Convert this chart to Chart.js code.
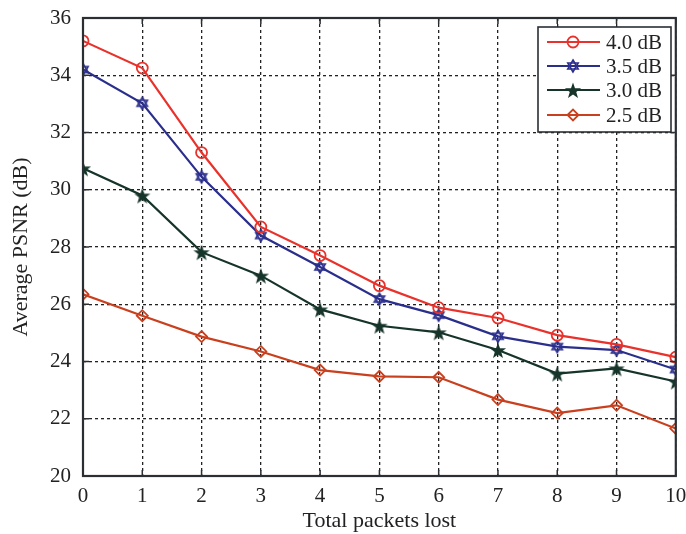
<!DOCTYPE html>
<html><head><meta charset="utf-8">
<script src="https://cdn.jsdelivr.net/npm/chart.js@4.4.1/dist/chart.umd.min.js"></script>
<style>html,body{margin:0;padding:0;background:#fff}#wrap{width:686px;height:534px}</style>
</head><body><div id="wrap"><canvas id="c" width="686" height="534"></canvas></div>
<script>
const categories = [0,1,2,3,4,5,6,7,8,9,10];
const seriesLabels = ['4.0 dB','3.5 dB','3.0 dB','2.5 dB'];
const s40 = [35.2,34.25,31.3,28.7,27.7,26.65,25.88,25.52,24.92,24.6,24.15];
const s35 = [34.2,33.02,30.45,28.4,27.3,26.18,25.62,24.88,24.52,24.4,23.72];
const s30 = [30.75,29.8,27.82,27.0,25.82,25.25,25.02,24.4,23.58,23.76,23.3];
const s25 = [26.35,25.6,24.87,24.35,23.7,23.48,23.45,22.67,22.2,22.47,21.66];
const yTicks = [20,22,24,26,28,30,32,34,36];

function mk(size, draw){const c=document.createElement('canvas');c.width=size;c.height=size;const g=c.getContext('2d');draw(g,size/2);return c;}
const hexa = mk(16,(g,m)=>{g.strokeStyle='#2b2f8c';g.lineWidth=1.6;const r=6;
  for(const off of [Math.PI/2,-Math.PI/2]){g.beginPath();for(let i=0;i<3;i++){const a=off+i*2*Math.PI/3;const x=m+r*Math.cos(a),y=m+r*Math.sin(a);i?g.lineTo(x,y):g.moveTo(x,y);}g.closePath();g.stroke();}});
const star5 = mk(20,(g,m)=>{g.fillStyle='#16342a';g.beginPath();for(let i=0;i<10;i++){const r=i%2?3.4:8.5;const a=-Math.PI/2+i*Math.PI/5;const x=m+r*Math.cos(a),y=m+1+r*Math.sin(a);i?g.lineTo(x,y):g.moveTo(x,y);}g.closePath();g.fill();});

const ds = [
 {label:seriesLabels[0],data:s40,borderColor:'#e8322b',pointStyle:'circle',pointRadius:5.5,pointBorderWidth:1.8,pointBackgroundColor:'rgba(255,255,255,0)'},
 {label:seriesLabels[1],data:s35,borderColor:'#2b2f8c',pointStyle:hexa,pointRadius:6},
 {label:seriesLabels[2],data:s30,borderColor:'#16342a',pointStyle:star5,pointRadius:8},
 {label:seriesLabels[3],data:s25,borderColor:'#c9401e',pointStyle:'rectRot',pointRadius:5.5,pointBorderWidth:1.8,pointBackgroundColor:'rgba(255,255,255,0)'}
].map(d=>Object.assign({borderWidth:2.2,pointBorderColor:d.borderColor,tension:0,fill:false},d));

const frame = {id:'frame',afterDraw(ch){const {ctx,chartArea:a,scales}=ch;ctx.save();
  ctx.strokeStyle='#2a2f33';ctx.lineWidth=1.5;
  ctx.beginPath();
  categories.forEach(v=>{const x=scales.x.getPixelForValue(v);ctx.moveTo(x,a.bottom);ctx.lineTo(x,a.bottom-6);ctx.moveTo(x,a.top);ctx.lineTo(x,a.top+6);});
  yTicks.forEach(v=>{const y=scales.y.getPixelForValue(v);ctx.moveTo(a.left,y);ctx.lineTo(a.left+6,y);ctx.moveTo(a.right,y);ctx.lineTo(a.right-6,y);});
  ctx.stroke();
  ctx.lineWidth=2.2;ctx.strokeRect(a.left,a.top,a.right-a.left,a.bottom-a.top);
  const L=538,T=27,W=133,H=105;ctx.fillStyle='#fff';ctx.fillRect(L,T,W,H);ctx.strokeStyle='#2a2f33';ctx.lineWidth=1.6;ctx.strokeRect(L,T,W,H);
  const rows=[42,66,90,115];
  ch.data.datasets.forEach((d,i)=>{const y=rows[i];ctx.strokeStyle=d.borderColor;ctx.lineWidth=2.2;ctx.beginPath();ctx.moveTo(547,y);ctx.lineTo(600,y);ctx.stroke();
    ctx.fillStyle='rgba(255,255,255,0)';ctx.lineWidth=d.pointBorderWidth||1;
    Chart.helpers.drawPoint(ctx,{pointStyle:d.pointStyle,radius:d.pointRadius,borderWidth:d.pointBorderWidth||1,rotation:0},573,y);
    ctx.fillStyle='#222';ctx.font='21px "Liberation Serif"';ctx.textBaseline='middle';ctx.textAlign='left';ctx.fillText(d.label,606,y+1);});
  ctx.restore();}};

new Chart(document.getElementById('c'),{type:'line',
 data:{labels:categories,datasets:ds},
 plugins:[frame],
 options:{responsive:false,animation:false,
  layout:{padding:{left:0,right:8,top:18,bottom:0}},
  plugins:{legend:{display:false},tooltip:{enabled:false}},
  scales:{
   x:{type:'linear',min:0,max:10,afterFit(s){s.height=58;s.paddingLeft=0;s.paddingRight=0;},
     afterBuildTicks(s){s.ticks=categories.map(v=>({value:v}));},
     ticks:{color:'#222',font:{family:'Liberation Serif',size:21},padding:8,maxRotation:0,autoSkip:false},
     grid:{color:'#222',lineWidth:1.3,tickLength:0,drawTicks:false},border:{display:false,dash:[3,3]},
     title:{display:true,text:'Total packets lost',color:'#222',font:{family:'Liberation Serif',size:22},padding:{top:1,bottom:0}}},
   y:{min:20,max:36,afterFit(s){s.width=83;s.paddingTop=0;s.paddingBottom=0;},
     afterBuildTicks(s){s.ticks=yTicks.map(v=>({value:v}));},
     ticks:{color:'#222',font:{family:'Liberation Serif',size:21},padding:12},
     grid:{color:'#222',lineWidth:1.3,drawTicks:false},border:{display:false,dash:[3,3]},
     title:{display:true,text:'Average PSNR (dB)',color:'#222',font:{family:'Liberation Serif',size:22},padding:{top:8,bottom:2}}}
  }}});
</script></body></html>
